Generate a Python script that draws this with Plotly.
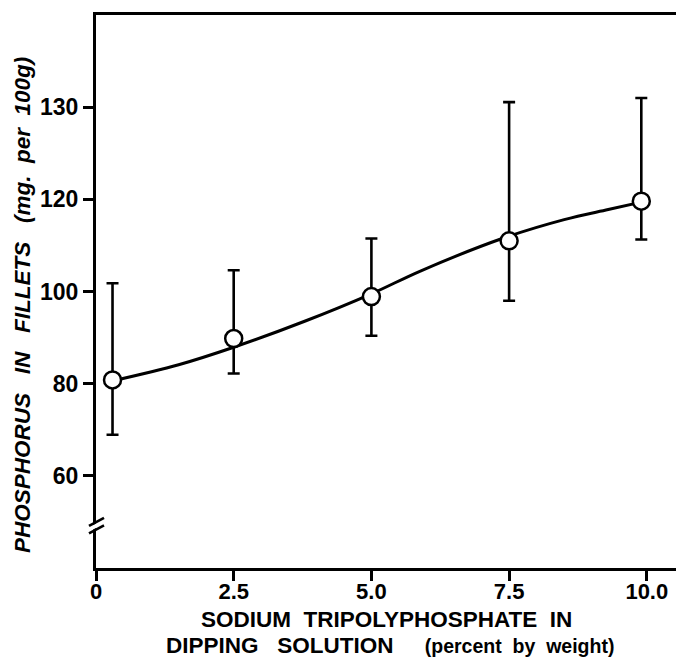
import plotly.graph_objects as go

# ---- data ----
stpp_percent = [0.3, 2.5, 5.0, 7.5, 9.9]
phosphorus_mean = [80.8, 89.8, 98.9, 111.0, 119.6]
phosphorus_upper = [101.8, 104.6, 111.5, 141.1, 142.0]
phosphorus_lower = [68.9, 82.2, 90.4, 98.0, 111.3]

curve_x = [0.3, 1.5, 2.5, 3.8, 5.0, 5.9, 7.4, 8.5, 9.3, 9.9]
curve_y = [80.6, 84.1, 87.9, 93.6, 99.5, 104.5, 111.6, 115.6, 117.8, 119.4]

x_tickvals = [0, 2.5, 5.0, 7.5, 10.0]
x_ticktext = ["0", "2.5", "5.0", "7.5", "10.0"]
y_tickvals = [60, 80, 100, 120, 140]
y_ticktext = ["60", "80", "100", "120", "130"]

axis_break_value = 49.2
X_RANGE = [0, 10.53]
Y_RANGE = [40, 160]

FONT = "Liberation Sans, Arial, sans-serif"
W, H = 676, 662
ML, MR, MT, MB = 96, 0, 15, 94
PW, PH = W - ML - MR, H - MT - MB

err_plus = [u - m for u, m in zip(phosphorus_upper, phosphorus_mean)]
err_minus = [m - l for m, l in zip(phosphorus_mean, phosphorus_lower)]

fig = go.Figure()
fig.add_trace(go.Scatter(
    x=curve_x, y=curve_y, mode="lines",
    line=dict(color="black", width=3, shape="spline", smoothing=1.0),
    hoverinfo="skip"))
fig.add_trace(go.Scatter(
    x=stpp_percent, y=phosphorus_mean, mode="markers",
    marker=dict(symbol="circle", size=17, color="white",
                line=dict(color="black", width=2.5)),
    error_y=dict(type="data", symmetric=False, array=err_plus,
                 arrayminus=err_minus, color="black", thickness=2.6, width=6)))

# axis break "//" on the y axis
by = (axis_break_value - Y_RANGE[0]) / (Y_RANGE[1] - Y_RANGE[0])
dxp, dyp = 1.0 / PW, 1.0 / PH
shapes = [dict(type="line", xref="paper", yref="paper",
               x0=-6 * dxp, y0=by - 3.5 * dyp, x1=7 * dxp, y1=by + 3.5 * dyp,
               line=dict(color="white", width=4))]
for off in (-3.8, 3.8):
    shapes.append(dict(type="line", xref="paper", yref="paper",
                       x0=-7 * dxp, y0=by + (off - 4) * dyp,
                       x1=8 * dxp, y1=by + (off + 4) * dyp,
                       line=dict(color="black", width=2.6)))

nb = "\u00a0"
ytitle = (f"<b><i>PHOSPHORUS{nb*3}IN{nb*3}FILLETS{nb*3}"
          f"(mg.{nb*2}per{nb*2}100g)</i></b>")
xline1 = f"<b>SODIUM{nb*2}TRIPOLYPHOSPHATE{nb*2}IN</b>"
xline2 = (f"<b>DIPPING{nb*3}SOLUTION{nb*5}"
          f"<span style='font-size:19.5px'>(percent{nb*2}by{nb*2}weight)</span></b>")

annotations = [
    dict(text=ytitle, xref="paper", yref="paper", x=(22 - ML) / PW,
         y=(MT + PH - 305) / PH, textangle=-90, showarrow=False,
         xanchor="center", yanchor="middle",
         font=dict(size=22.5, color="black", family=FONT)),
    dict(text=xline1, xref="paper", yref="paper", x=(386 - ML) / PW,
         y=(MT + PH - 619) / PH, showarrow=False, xanchor="center", yanchor="middle",
         font=dict(size=22.5, color="black", family=FONT)),
    dict(text=xline2, xref="paper", yref="paper", x=(390 - ML) / PW,
         y=(MT + PH - 645) / PH, showarrow=False, xanchor="center", yanchor="middle",
         font=dict(size=22.5, color="black", family=FONT)),
]

fig.update_layout(
    width=W, height=H, margin=dict(l=ML, r=MR, t=MT, b=MB, pad=0),
    plot_bgcolor="white", paper_bgcolor="white", showlegend=False,
    font=dict(family=FONT, color="black"),
    shapes=shapes, annotations=annotations,
    xaxis=dict(range=X_RANGE, tickvals=x_tickvals,
               ticktext=[f"<b>{t}</b>" for t in x_ticktext],
               showgrid=False, zeroline=False, showline=True, linecolor="black",
               linewidth=3, mirror=True, ticks="outside", ticklen=10, tickwidth=3,
               tickcolor="black", ticklabelstandoff=-8,
               tickfont=dict(size=22, family=FONT, color="black")),
    yaxis=dict(range=Y_RANGE, tickvals=y_tickvals,
               ticktext=[f"<b>{t}</b>" for t in y_ticktext],
               showgrid=False, zeroline=False, showline=True, linecolor="black",
               linewidth=3, mirror=False, ticks="outside", ticklen=10, tickwidth=3,
               tickcolor="black",
               tickfont=dict(size=23, family=FONT, color="black")),
)

fig.write_html("out.html")
